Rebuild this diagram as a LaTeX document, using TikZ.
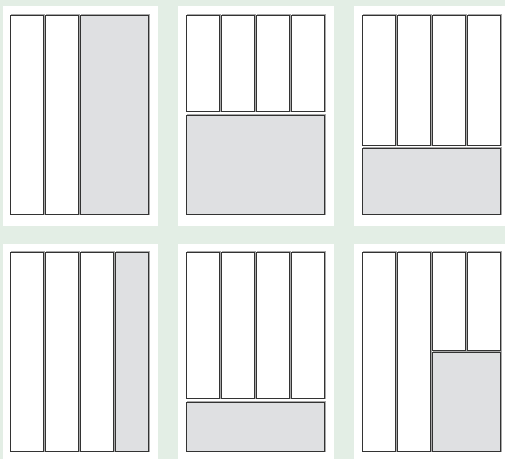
\documentclass[tikz,border=0pt]{standalone}
\definecolor{bgg}{HTML}{E3EEE5}
\definecolor{fillg}{HTML}{DFE0E2}
\definecolor{edgeg}{HTML}{333333}
\definecolor{shadg}{HTML}{A8A8A8}
\begin{document}
\begin{tikzpicture}[x=1pt,y=-1pt,
  panel/.style={fill=white,draw=none},
  col/.style={fill=white,draw=edgeg,line width=0.9pt},
  shade/.style={fill=fillg,draw=edgeg,line width=0.9pt},
  shadow/.style={draw=shadg,line width=1pt}]
\useasboundingbox (0,0) rectangle (505,459);
\fill[bgg] (0,0) rectangle (505,459);
% white panels
\fill[panel] (3,6) rectangle (158,226);
\fill[panel] (178,6) rectangle (334,226);
\fill[panel] (354,6) rectangle (510,226);
\fill[panel] (3,244) rectangle (158,465);
\fill[panel] (178,244) rectangle (334,465);
\fill[panel] (354,244) rectangle (510,465);
% macro-like boxes via foreach lists: x1,y1,x2,y2,style
\foreach \a/\b/\c/\d/\s in {
  10/15/43/214/col, 45/15/78/214/col, 80/15/148/214/shade,
  186/15/219/111/col, 221/15/254/111/col, 256/15/289/111/col, 291/15/324/111/col, 186/115/324/214/shade,
  362/15/395/145/col, 397/15/430/145/col, 432/15/465/145/col, 467/15/500/145/col, 362/148/500/214/shade,
  10/252/43/451/col, 45/252/78/451/col, 80/252/113/451/col, 115/252/148/451/shade,
  186/252/219/398/col, 221/252/254/398/col, 256/252/289/398/col, 291/252/324/398/col, 186/402/324/451/shade,
  362/252/395/451/col, 397/252/430/451/col, 432/252/465/350/col, 467/252/500/350/col, 432/352/500/451/shade}
{
  \draw[shadow] (\a+1,\b-0.5) rectangle (\c+1,\d+0.5);
  \draw[\s] (\a,\b) rectangle (\c,\d);
}
\end{tikzpicture}
\end{document}
